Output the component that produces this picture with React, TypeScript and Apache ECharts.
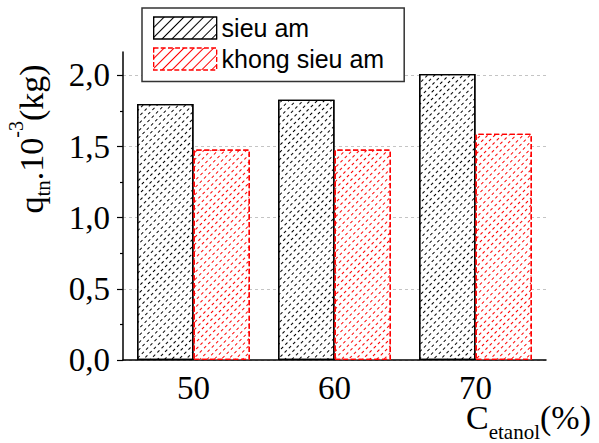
import React, { useEffect, useRef } from "react";
import * as echarts from "echarts";

const categories = ["50", "60", "70"];
const sieuAm = [1.8, 1.83, 2.01];
const khongSieuAm = [1.48, 1.48, 1.59];
const yMajorTicks = [0, 0.5, 1, 1.5, 2];
const yMinorTicks = [0.25, 0.75, 1.25, 1.75];
const seriesNames = ["sieu am", "khong sieu am"];

const SERIF = "Liberation Serif";
const SANS = "Liberation Sans";

export default function App() {
  const ref = useRef<HTMLDivElement>(null);
  useEffect(() => {
    if (!ref.current) return;
    const chart = echarts.init(ref.current, null, { renderer: "svg" });
    const hatch = (color: string) => ({
      symbol: "rect",
      symbolSize: 1,
      color,
      backgroundColor: "#fff",
      dashArrayX: [3, 3],
      dashArrayY: [1, 4],
      rotation: -Math.PI / 4,
    });
    const legendHatch = (color: string) => ({
      symbol: "rect",
      symbolSize: 1,
      color,
      backgroundColor: "#fff",
      dashArrayX: [1, 0],
      dashArrayY: [1, 6],
      rotation: -Math.PI / 4,
    });
    const tok = (fontSize: number, padTop: number) => ({
      fontFamily: SERIF,
      fontSize,
      verticalAlign: "top",
      color: "#000",
      padding: [padTop, 0, 0, 0],
    });
    chart.setOption({
      animation: false,
      grid: { left: 123, right: 53, top: 52, bottom: 83 },
      legend: {
        orient: "vertical",
        left: 142,
        top: 8,
        padding: [7.5, 20, 10, 11],
        itemGap: 6,
        itemWidth: 63,
        itemHeight: 22,
        icon: "rect",
        backgroundColor: "#fff",
        borderColor: "#333",
        borderWidth: 1.5,
        borderRadius: 0,
        textStyle: { fontFamily: SANS, fontSize: 25, color: "#000" },
        data: [
          {
            name: seriesNames[0],
            itemStyle: { color: "#fff", borderColor: "#000", borderWidth: 1.2, borderType: "solid", decal: legendHatch("#000") },
          },
          {
            name: seriesNames[1],
            itemStyle: { color: "#fff", borderColor: "#ff0000", borderWidth: 1.2, borderType: "dashed", decal: legendHatch("#ff0000") },
          },
        ],
      },
      xAxis: [
        {
          type: "category",
          data: categories,
          position: "bottom",
          axisLine: { lineStyle: { color: "#000", width: 1.5 } },
          axisTick: { alignWithLabel: true, length: 6, lineStyle: { color: "#000", width: 1.2 } },
          axisLabel: { fontFamily: SERIF, fontSize: 33, lineHeight: 24, color: "#000", margin: 15.5 },
          splitLine: { show: false },
        },
        {
          type: "category",
          data: categories,
          position: "bottom",
          axisLine: { show: false },
          axisTick: { length: 3, lineStyle: { color: "#000", width: 1.2 } },
          axisLabel: { show: false },
          splitLine: { show: false },
        },
      ],
      yAxis: [
        {
          type: "value",
          min: 0,
          max: 2.165,
          position: "left",
          axisLine: { show: true, lineStyle: { color: "#000", width: 1.5 } },
          axisTick: { show: true, length: 6, customValues: yMajorTicks, lineStyle: { color: "#000", width: 1.2 } },
          axisLabel: {
            customValues: yMajorTicks,
            fontFamily: SERIF,
            fontSize: 33,
            color: "#000",
            margin: 13,
            formatter: (v: number) => v.toFixed(1).replace(".", ","),
          },
          splitLine: { show: true, lineStyle: { color: "#c4c4c4", width: 1, type: [3, 3] } },
        },
        {
          type: "value",
          min: 0,
          max: 2.165,
          position: "left",
          axisLine: { show: false },
          axisTick: { show: true, length: 3, customValues: yMinorTicks, lineStyle: { color: "#000", width: 1.2 } },
          axisLabel: { show: false, customValues: yMinorTicks },
          splitLine: { show: false },
        },
      ],
      series: [
        {
          name: seriesNames[0],
          type: "bar",
          data: sieuAm,
          barGap: "0%",
          barCategoryGap: "20%",
          itemStyle: { color: "#fff", borderColor: "#000", borderWidth: 1.3, decal: hatch("#000") },
        },
        {
          name: seriesNames[1],
          type: "bar",
          data: khongSieuAm,
          barGap: "0%",
          barCategoryGap: "20%",
          itemStyle: { color: "#fff", borderColor: "#ff0000", borderWidth: 1.3, borderType: "dashed", decal: hatch("#ff0000") },
        },
      ],
      graphic: [
        {
          type: "text",
          x: 6.25,
          y: 139,
          rotation: Math.PI / 2,
          style: {
            text: "{m|q}{s|tn}{m|.10}{p|-3}{m|(kg)}",
            align: "center",
            verticalAlign: "top",
            fontFamily: SERIF,
            fontSize: 34,
            fill: "#000",
            rich: {
              m: tok(34, 8.25),
              s: tok(21, 26.15),
              p: tok(20, 0),
            },
          },
        },
        {
          type: "text",
          x: 466,
          y: 400,
          style: {
            text: "{m|C}{s|etanol}{m|(%)}",
            align: "left",
            verticalAlign: "top",
            fontFamily: SERIF,
            fontSize: 34,
            fill: "#000",
            rich: {
              m: tok(34, 0),
              s: tok(21, 21.5),
            },
          },
        },
      ],
    });
    return () => chart.dispose();
  }, []);
  return (
    <div
      ref={ref}
      style={{ position: "absolute", left: 0, top: 0, width: 599, height: 443, background: "#fff" }}
    />
  );
}
